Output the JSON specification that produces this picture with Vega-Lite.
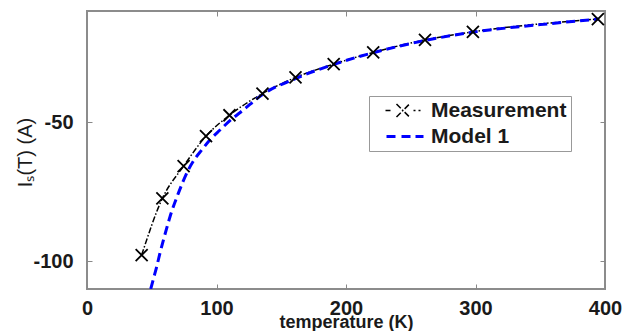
{
  "$schema": "https://vega.github.io/schema/vega-lite/v6.json",
  "autosize": {"type": "none"},
  "width": 518,
  "height": 278,
  "padding": {"left": 87, "top": 11, "right": 19, "bottom": 42},
  "background": "white",
  "config": {
    "view": {"stroke": "#8c8c8c", "strokeWidth": 2},
    "font": "Liberation Sans"
  },
  "data": {
    "values": [
      {"series": "Measurement", "T": 42.2, "Is": -97.8},
      {"series": "Measurement", "T": 58.2, "Is": -77.4},
      {"series": "Measurement", "T": 74.6, "Is": -65.8},
      {"series": "Measurement", "T": 91.9, "Is": -55.0},
      {"series": "Measurement", "T": 110.0, "Is": -47.5},
      {"series": "Measurement", "T": 135.5, "Is": -39.7},
      {"series": "Measurement", "T": 161.0, "Is": -33.9},
      {"series": "Measurement", "T": 190.5, "Is": -29.1},
      {"series": "Measurement", "T": 221.0, "Is": -24.9},
      {"series": "Measurement", "T": 261.0, "Is": -20.4},
      {"series": "Measurement", "T": 298.0, "Is": -17.5},
      {"series": "Measurement", "T": 394.5, "Is": -12.9},
      {"series": "Model 1", "T": 49.2, "Is": -110.0},
      {"series": "Model 1", "T": 51.5, "Is": -106.0},
      {"series": "Model 1", "T": 53.8, "Is": -102.0},
      {"series": "Model 1", "T": 56.3, "Is": -97.2},
      {"series": "Model 1", "T": 59.0, "Is": -92.4},
      {"series": "Model 1", "T": 61.5, "Is": -88.2},
      {"series": "Model 1", "T": 64.1, "Is": -84.0},
      {"series": "Model 1", "T": 67.2, "Is": -79.7},
      {"series": "Model 1", "T": 70.5, "Is": -75.6},
      {"series": "Model 1", "T": 74.2, "Is": -71.3},
      {"series": "Model 1", "T": 78.2, "Is": -67.2},
      {"series": "Model 1", "T": 83.0, "Is": -63.4},
      {"series": "Model 1", "T": 88.6, "Is": -60.0},
      {"series": "Model 1", "T": 95.0, "Is": -56.3},
      {"series": "Model 1", "T": 102.7, "Is": -52.8},
      {"series": "Model 1", "T": 111.0, "Is": -49.2},
      {"series": "Model 1", "T": 120.7, "Is": -45.6},
      {"series": "Model 1", "T": 135.0, "Is": -40.2},
      {"series": "Model 1", "T": 161.0, "Is": -34.3},
      {"series": "Model 1", "T": 190.0, "Is": -29.3},
      {"series": "Model 1", "T": 221.0, "Is": -25.0},
      {"series": "Model 1", "T": 261.0, "Is": -20.6},
      {"series": "Model 1", "T": 298.0, "Is": -17.6},
      {"series": "Model 1", "T": 350.0, "Is": -14.9},
      {"series": "Model 1", "T": 395.0, "Is": -12.9}
    ]
  },
  "resolve": {"axis": {"x": "independent", "y": "independent"}},
  "layer": [
    {
      "mark": {"type": "line", "interpolate": "monotone", "clip": true},
      "encoding": {
        "x": {
          "field": "T", "type": "quantitative",
          "scale": {"domain": [0, 400], "nice": false, "zero": false},
          "axis": {
            "values": [0, 100, 200, 300, 400],
            "title": "temperature (K)",
            "grid": false, "domain": false,
            "tickSize": -5, "tickColor": "#888", "tickWidth": 1,
            "labelPadding": 14, "labelFontSize": 20, "labelFontWeight": "bold",
            "labelColor": "#1a1a1a", "labelFlush": false, "labelOverlap": false,
            "titleFontSize": 18, "titleFontWeight": "bold", "titleColor": "#1a1a1a",
            "titleY": 38.5, "titleBaseline": "alphabetic"
          }
        },
        "y": {
          "field": "Is", "type": "quantitative",
          "scale": {"domain": [-110, -10], "nice": false, "zero": false},
          "axis": {
            "values": [-100, -50],
            "title": "Iₛ(T) (A)",
            "grid": false, "domain": false,
            "tickSize": -5, "tickColor": "#888", "tickWidth": 1,
            "labelPadding": 19, "labelFontSize": 20, "labelFontWeight": "bold",
            "labelColor": "#1a1a1a",
            "labelExpr": "datum.value == -50 ? '-50\u00a0\u00a0' : '-' + abs(datum.value)",
            "titleFontSize": 20, "titleFontWeight": "normal", "titleColor": "#1a1a1a",
            "titleAngle": -90, "titleX": -62, "titleY": 141,
            "titleAlign": "center", "titleBaseline": "middle"
          }
        },
        "color": {
          "field": "series", "type": "nominal",
          "scale": {"domain": ["Measurement", "Model 1"], "range": ["#000000", "#0000ff"]},
          "legend": {
            "orient": "none", "legendX": 282, "legendY": 85,
            "title": null,
            "symbolType": "stroke",
            "symbolSize": 100,
            "padding": 4,
            "rowPadding": 4,
            "labelOffset": 37,
            "labelFontSize": 21, "labelFontWeight": "bold", "labelColor": "#1a1a1a",
            "strokeColor": "#999999", "fillColor": "white",
            "encode": {
              "symbols": {
                "update": {
                  "shape": {"signal": "datum.value === 'Measurement' ? 'M0.4,0H1.4M2.6,-1.3L5.2,1.3M2.6,1.3L5.2,-1.3M6,0H6.4M7,0H7.4' : 'M0.6,0H2.6M3.6,0H5.4M6.4,0H8'"},
                  "strokeWidth": {"signal": "datum.value === 'Measurement' ? 1.5 : 3"}
                }
              }
            }
          }
        },
        "strokeDash": {
          "field": "series", "type": "nominal",
          "scale": {"domain": ["Measurement", "Model 1"], "range": [[6, 2, 1.5, 2], [9, 5]]},
          "legend": null
        },
        "strokeWidth": {
          "field": "series", "type": "nominal",
          "scale": {"domain": ["Measurement", "Model 1"], "range": [1.5, 3]},
          "legend": null
        }
      }
    },
    {
      "transform": [{"filter": "datum.series == 'Measurement'"}],
      "mark": {
        "type": "point",
        "shape": "M-1,-1L1,1M-1,1L1,-1",
        "size": 144,
        "filled": false,
        "stroke": "#000000",
        "strokeWidth": 1.8,
        "opacity": 1
      },
      "encoding": {
        "x": {
          "field": "T", "type": "quantitative",
          "axis": {
            "orient": "top", "values": [100, 200, 300], "labels": false,
            "title": null, "grid": false, "domain": false,
            "tickSize": -5, "tickColor": "#888", "tickWidth": 1
          }
        },
        "y": {
          "field": "Is", "type": "quantitative",
          "axis": {
            "orient": "right", "values": [-100, -50], "labels": false,
            "title": null, "grid": false, "domain": false,
            "tickSize": -5, "tickColor": "#888", "tickWidth": 1
          }
        }
      }
    }
  ]
}
